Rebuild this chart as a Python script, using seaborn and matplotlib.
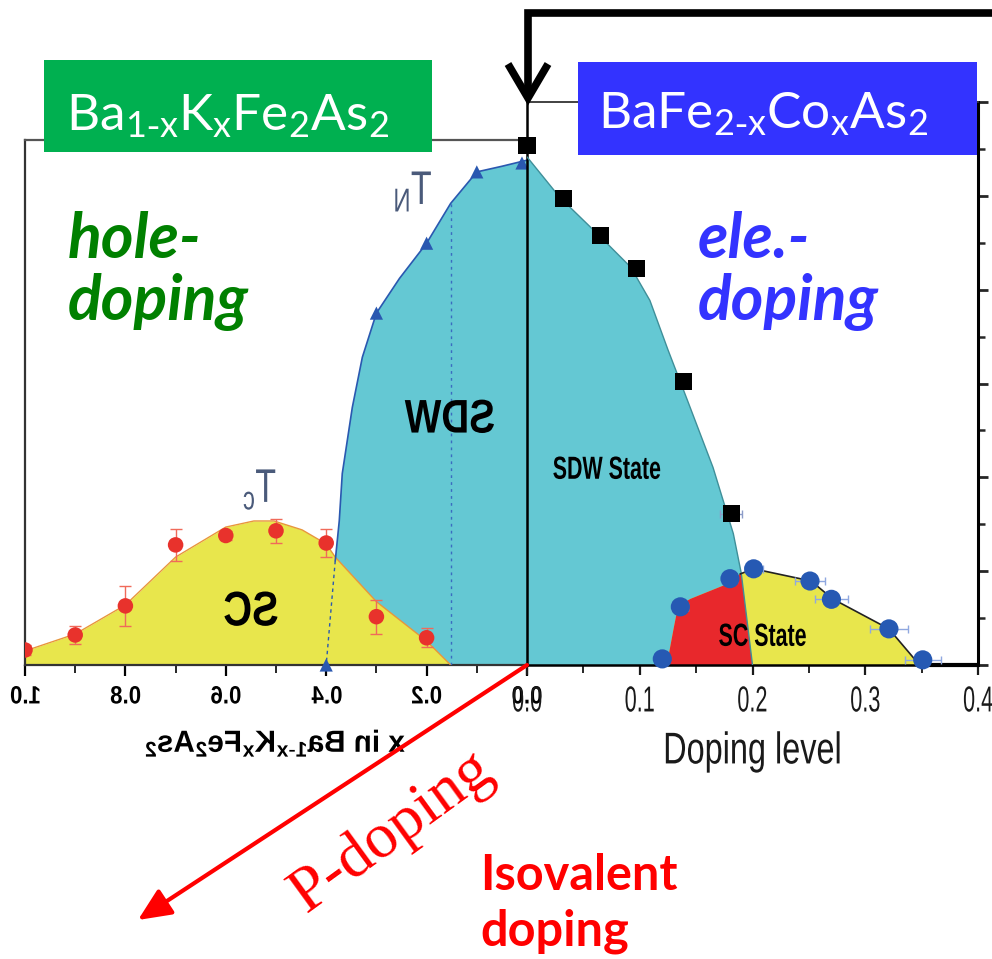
import matplotlib
matplotlib.use("Agg")
import matplotlib.pyplot as plt
import seaborn as sns
from matplotlib.patheffects import AbstractPathEffect
from matplotlib.transforms import Affine2D
from matplotlib.patches import Rectangle
from matplotlib.lines import Line2D
from matplotlib.ticker import MultipleLocator, FixedLocator, FormatStrFormatter

# ---------------- Ba1-xKxFe2As2 (hole doping, left panel) ----------------
k_x = [1.0, 0.9, 0.8, 0.7, 0.6, 0.5, 0.4, 0.3, 0.2]
k_tc = [3.2, 6.4, 12.6, 25.6, 27.6, 28.6, 26.0, 10.3, 5.8]
k_tc_err = [1.0, 2.0, 4.2, 3.4, 1.0, 2.6, 3.0, 3.6, 2.0]
# superconducting dome outline
k_dome_x = [1.0, 0.9, 0.8, 0.7, 0.6, 0.544, 0.504, 0.448, 0.40, 0.382, 0.30, 0.20, 0.152]
k_dome_t = [3.0, 6.6, 12.8, 23.0, 29.4, 30.7, 30.7, 28.8, 25.8, 23.0, 13.5, 5.1, 0.0]
# Neel temperature points
k_tn_x = [0.01, 0.1, 0.2, 0.3, 0.4]
k_tn = [107.0, 105.1, 89.9, 75.0, 0.0]
# SDW phase boundary
k_sdw_x = [0.0, 0.05, 0.1, 0.152, 0.2, 0.254, 0.3, 0.328, 0.348, 0.368, 0.374, 0.382]
k_sdw_t = [107.6, 106.3, 105.1, 98.4, 89.9, 82.4, 75.0, 65.6, 54.9, 40.8, 30.7, 22.2]
k_guide_idx = 3          # dotted vertical guide drawn at k_sdw_x[3]
k_ticks = [1.0, 0.8, 0.6, 0.4, 0.2, 0.0]

# ---------------- BaFe2-xCoxAs2 (electron doping, right panel) ----------------
co_tn_x = [0.0, 0.032, 0.065, 0.097, 0.139, 0.181]
co_tn = [110.8, 99.5, 91.6, 84.6, 60.4, 32.2]
co_tn_xerr = [0.0, 0.0, 0.0, 0.0, 0.006, 0.010]
co_tc_x = [0.120, 0.136, 0.180, 0.201, 0.251, 0.270, 0.321, 0.351]
co_tc = [1.3, 12.4, 18.4, 20.5, 17.9, 14.0, 7.7, 1.1]
co_tc_xerr = [0.006, 0.007, 0.006, 0.008, 0.013, 0.015, 0.017, 0.016]
co_sdw_x = [0.0, 0.029, 0.062, 0.092, 0.109, 0.125, 0.142, 0.165, 0.183, 0.190, 0.200]
co_sdw_t = [108.3, 99.7, 92.0, 84.8, 77.7, 67.2, 56.6, 42.1, 28.0, 19.6, 0.0]
co_dome_x = [0.124, 0.130, 0.134, 0.145, 0.180, 0.189, 0.201, 0.252, 0.271, 0.321, 0.345, 0.347]
co_dome_t = [0.0, 7.7, 12.6, 14.1, 17.5, 19.4, 20.5, 17.9, 14.1, 7.7, 0.9, 0.0]
co_ticks = [0.0, 0.1, 0.2, 0.3, 0.4]

CYAN = "#64C8D3"
YELLOW = "#E8E64C"
SC_RED = "#E8282C"
DOT_RED = "#E8322C"
BLUE = "#2A58B0"

sns.set_theme(style="white")
plt.rcParams["font.family"] = ["Liberation Sans", "DejaVu Sans"]
plt.rcParams["mathtext.default"] = "regular"


class Squash(AbstractPathEffect):
    """Rescale a text path horizontally about its own centre (negative mirrors it)."""

    def __init__(self, sx=1.0):
        super().__init__()
        self.sx = sx

    def draw_path(self, renderer, gc, tpath, affine, rgbFace=None):
        ext = tpath.get_extents(affine)
        cx = 0.5 * (ext.x0 + ext.x1)
        t = affine + Affine2D().translate(-cx, 0).scale(self.sx, 1.0).translate(cx, 0)
        renderer.draw_path(gc, tpath, t, rgbFace)


W, H = 992, 959
fig = plt.figure(figsize=(W / 100, H / 100), dpi=100)
px = Affine2D().scale(1.0 / W, -1.0 / H).translate(0, 1) + fig.transFigure

BASE, TOP_L, TOP_R = 665, 140, 102
axL = fig.add_axes([25 / W, (H - BASE) / H, 502 / W, (BASE - TOP_L) / H])
axR = fig.add_axes([527 / W, (H - BASE) / H, 451 / W, (BASE - TOP_R) / H])
T_MAX = 120.0
axR.set_xlim(0, 0.4)
axR.set_ylim(0, T_MAX)
axL.set_xlim(1.0, 0.0)
axL.set_ylim(0, T_MAX * (BASE - TOP_L) / (BASE - TOP_R))
for ax in (axL, axR):
    ax.patch.set_alpha(0)
    ax.grid(False)

# ---------------- left panel ----------------
axL.fill(k_sdw_x + [k_tn_x[-1], k_sdw_x[0]], k_sdw_t + [k_tn[-1], 0.0],
         color=CYAN, lw=0, zorder=1)
axL.fill_between(k_dome_x, k_dome_t, 0, color=YELLOW, lw=0, zorder=2)
axL.plot(k_dome_x, k_dome_t, color="#E8963C", lw=1.0, zorder=3)
axL.plot(k_sdw_x, k_sdw_t, color=BLUE, lw=1.2, zorder=3)
axL.plot([k_sdw_x[-1], k_tn_x[-1]], [k_sdw_t[-1], k_tn[-1]], color=BLUE,
         lw=1.0, ls=(0, (2.5, 2.5)), zorder=3)
gx = k_sdw_x[k_guide_idx]
axL.plot([gx, gx], [0, k_sdw_t[k_guide_idx]], color="#3A6CC0", lw=1.0,
         ls=(0, (2.0, 3.0)), zorder=3)

axL.errorbar(k_x, k_tc, yerr=k_tc_err, fmt="none", ecolor="#F06A5A",
             elinewidth=1.0, capsize=4, capthick=1.0, zorder=4)
sns.scatterplot(x=k_x, y=k_tc, ax=axL, marker="o", s=125, color=DOT_RED,
                edgecolor="none", zorder=5)
sns.scatterplot(x=k_tn_x, y=k_tn, ax=axL, marker="^", s=90, color=BLUE,
                edgecolor="none", zorder=5, clip_on=False)

axL.text(0.156, 52.1, "SDW", ha="center", va="center", fontsize=34,
         fontweight="bold", color="black", zorder=6, path_effects=[Squash(-0.82)])
axL.text(0.55, 11.1, "SC", ha="center", va="center", fontsize=35,
         fontweight="bold", color="black", zorder=6, path_effects=[Squash(-0.82)])
axL.text(0.226, 100.8, r"T$_N$", ha="center", va="center", fontsize=34,
         color="#4a5a7a", zorder=6, path_effects=[Squash(-0.72)])
axL.text(0.532, 37.3, r"T$_c$", ha="center", va="center", fontsize=34,
         color="#4a5a7a", zorder=6, path_effects=[Squash(-0.72)])

axL.xaxis.set_major_locator(FixedLocator(k_ticks))
axL.xaxis.set_minor_locator(MultipleLocator(0.1))
axL.xaxis.set_major_formatter(FormatStrFormatter("%.1f"))
axL.set_yticks([])
axL.tick_params(axis="x", which="major", direction="out", length=8, width=1.6,
                pad=6, labelsize=18, colors="black", bottom=True)
axL.tick_params(axis="x", which="minor", direction="out", length=6, width=1.4,
                bottom=True)
for lab in axL.get_xticklabels():
    lab.set_fontweight("bold")
    lab.set_path_effects([Squash(-0.89)])
axL.set_xlabel(r"x in Ba$_{1\text{-}x}$K$_x$Fe$_2$As$_2$", fontsize=22,
               fontweight="bold", color="black")
axL.xaxis.label.set_path_effects([Squash(-0.97)])
axL.xaxis.set_label_coords(0.5, -0.118)
for side, lw, col in (("left", 1.6, "#333333"), ("top", 1.6, "#555555"),
                      ("bottom", 1.6, "#333333")):
    axL.spines[side].set_linewidth(lw)
    axL.spines[side].set_color(col)
axL.spines["right"].set_visible(False)

# ---------------- right panel ----------------
sdw_poly = axR.fill([co_sdw_x[0]] + co_sdw_x, [0.0] + co_sdw_t, color=CYAN,
                    lw=0, zorder=1)[0]
axR.plot(co_sdw_x, co_sdw_t, color="#3F8F99", lw=1.0, zorder=3)
axR.fill(co_dome_x, co_dome_t, color=YELLOW, lw=0, zorder=2)
sc_in_sdw = axR.fill(co_dome_x, co_dome_t, color=SC_RED, lw=0, zorder=2.5)[0]
sc_in_sdw.set_clip_path(sdw_poly)
axR.plot(co_dome_x[5:], co_dome_t[5:], color="#222222", lw=1.2, zorder=3)
axR.plot([co_dome_x[-1], axR.get_xlim()[1]], [0, 0], color="black", lw=3.0,
         zorder=3, clip_on=False)

axR.errorbar(co_tn_x, co_tn, xerr=co_tn_xerr, fmt="none", ecolor="#8C9CC8",
             elinewidth=1.0, capsize=3, zorder=4)
axR.errorbar(co_tc_x, co_tc, xerr=co_tc_xerr, fmt="none", ecolor="#8FA8E0",
             elinewidth=1.0, capsize=3, zorder=4)
sns.scatterplot(x=co_tn_x, y=co_tn, ax=axR, marker="s", s=150, color="black",
                edgecolor="none", zorder=6, clip_on=False)
sns.scatterplot(x=co_tc_x, y=co_tc, ax=axR, marker="o", s=190, color="#2659B3",
                edgecolor="none", zorder=6, clip_on=False)

axR.text(0.071, 41.4, "SDW State", ha="center", va="center", fontsize=23,
         fontweight="bold", color="black", zorder=7, path_effects=[Squash(0.67)])
axR.text(0.209, 5.8, "SC State", ha="center", va="center", fontsize=23,
         fontweight="bold", color="black", zorder=7, path_effects=[Squash(0.67)])

axR.xaxis.set_major_locator(FixedLocator(co_ticks))
axR.xaxis.set_minor_locator(MultipleLocator(0.05))
axR.xaxis.set_major_formatter(FormatStrFormatter("%.1f"))
axR.tick_params(axis="x", which="major", direction="out", length=7, width=1.6,
                pad=7, labelsize=26, colors="#1a1a1a", bottom=True)
axR.tick_params(axis="x", which="minor", direction="out", length=6, width=1.4,
                bottom=True)
for lab in axR.get_xticklabels():
    lab.set_path_effects([Squash(0.6)])
axR.yaxis.set_major_locator(MultipleLocator(20))
axR.yaxis.set_minor_locator(MultipleLocator(10))
axR.yaxis.set_ticks_position("right")
axR.tick_params(axis="y", which="major", direction="out", length=7, width=2.0,
                right=True, left=False, labelright=False, labelleft=False)
axR.tick_params(axis="y", which="minor", direction="out", length=5, width=1.8,
                right=True, left=False)
axR.set_xlabel("Doping level", fontsize=32, color="#1a1a1a")
axR.xaxis.label.set_path_effects([Squash(0.73)])
axR.xaxis.set_label_coords(0.5, -0.118)
for side, lw, col in (("left", 1.8, "black"), ("top", 1.3, "#333333"),
                      ("right", 2.2, "black"), ("bottom", 1.8, "black")):
    axR.spines[side].set_linewidth(lw)
    axR.spines[side].set_color(col)

# ---------------- compound labels ----------------
fig.add_artist(Rectangle((44, 60), 388, 92, transform=px, color="#00B050", lw=0))
fig.add_artist(Rectangle((578, 62), 399, 93, transform=px, color="#3333FF", lw=0))
fig.text(66, 130, r"Ba$_{1\text{-}x}$K$_x$Fe$_2$As$_2$", transform=px,
         fontsize=37, color="white", family=["Lato", "DejaVu Sans"],
         ha="left", va="baseline")
fig.text(598, 128, r"BaFe$_{2\text{-}x}$Co$_x$As$_2$", transform=px,
         fontsize=37, color="white", family=["Lato", "DejaVu Sans"],
         ha="left", va="baseline")

for xl, word1, col in ((68, "hole-", "#008000"), (698, "ele.-", "#3333FF")):
    fig.text(xl, 258, word1, transform=px, fontsize=45, fontweight="bold",
             fontstyle="italic", color=col, family=["Lato", "DejaVu Sans"],
             ha="left", va="baseline")
    fig.text(xl, 320, "doping", transform=px, fontsize=45, fontweight="bold",
             fontstyle="italic", color=col, family=["Lato", "DejaVu Sans"],
             ha="left", va="baseline")

# bracket arrow pointing down onto the parent compound
fig.add_artist(Line2D([992, 528, 528], [13, 13, 96], transform=px, lw=5.5,
                      color="black", solid_joinstyle="miter", solid_capstyle="butt"))
fig.add_artist(Line2D([508, 528, 548], [64, 98, 64], transform=px, lw=5.5,
                      color="black", solid_joinstyle="miter", solid_capstyle="butt"))

# isovalent (P) doping direction
axR.annotate("", xy=(138, 920), xycoords=px, xytext=(0.0, 0.0), textcoords="data",
             annotation_clip=False,
             arrowprops=dict(arrowstyle="-|>,head_length=1.0,head_width=0.45",
                             color="#FF0000", lw=3.0, shrinkA=0, shrinkB=0,
                             mutation_scale=20))
fig.text(392, 832, "P-doping", transform=px, rotation=36, rotation_mode="anchor",
         ha="center", va="center", fontsize=46, color="#FF0000",
         family=["Liberation Serif", "DejaVu Serif"])
fig.text(480, 890, "Isovalent", transform=px, fontsize=35, fontweight="bold",
         color="#FF0000", family=["Lato", "DejaVu Sans"], ha="left", va="baseline")
fig.text(480, 945, "doping", transform=px, fontsize=35, fontweight="bold",
         color="#FF0000", family=["Lato", "DejaVu Sans"], ha="left", va="baseline")

fig.savefig("out.png", dpi=100)
